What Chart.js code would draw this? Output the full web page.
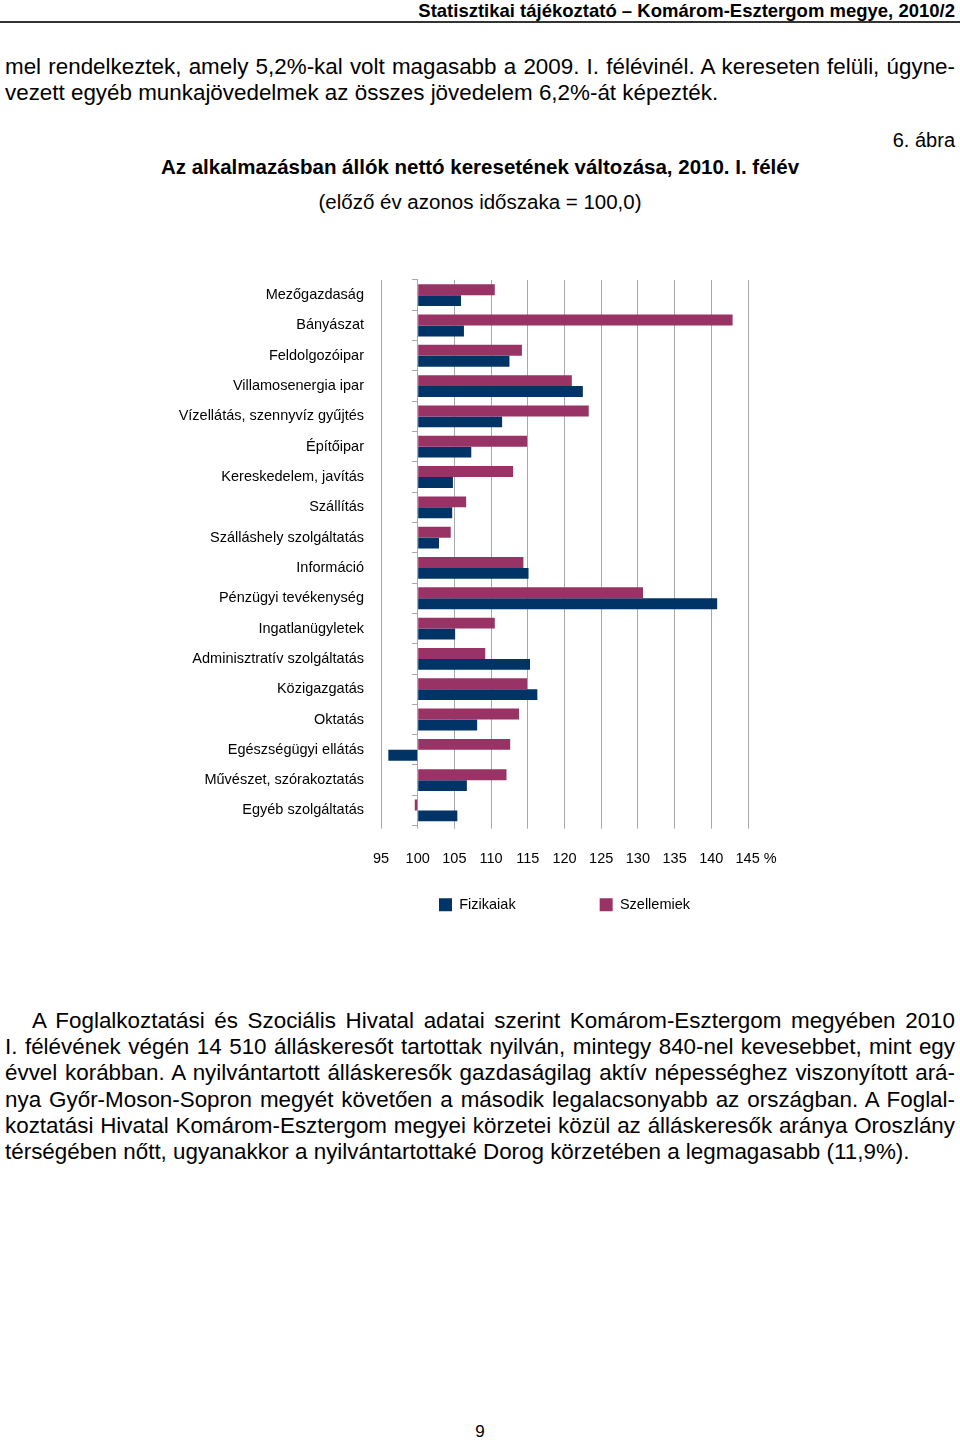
<!DOCTYPE html>
<html lang="hu">
<head>
<meta charset="utf-8">
<title>Az alkalmazásban állók nettó keresetének változása, 2010. I. félév</title>
<script src="https://cdn.jsdelivr.net/npm/chart.js@4/dist/chart.umd.min.js"></script>
<style>
  html, body { margin: 0; padding: 0; background: #fff; }
  body { width: 960px; height: 1440px; position: relative; font-family: "Liberation Sans", Arial, sans-serif; color: #000; overflow: hidden; }
  .abs { position: absolute; }
  .header { right: 5px; top: 0; font-weight: bold; font-size: 18.5px; line-height: 22px; }
  .rule { left: 0; top: 21px; width: 960px; height: 2px; background: #333; }
  .para { left: 5px; width: 950px; font-size: 22.4px; line-height: 26.2px; }
  .para div { white-space: nowrap; }
  .para .j { text-align: justify; text-align-last: justify; }
  .para .l { text-align: left; }
  .fig { right: 5px; top: 127px; font-size: 20px; line-height: 26px; }
  .title { left: 0; width: 960px; text-align: center; top: 154px; font-size: 20.5px; line-height: 26px; font-weight: bold; }
  .subtitle { left: 0; width: 960px; text-align: center; top: 189px; font-size: 20.5px; line-height: 26px; }
  .chart-box { left: 0; top: 240px; width: 960px; height: 690px; }
  .pageno { left: 0; width: 960px; text-align: center; top: 1421px; font-size: 17px; line-height: 22px; }
</style>
</head>
<body>
<div class="abs header">Statisztikai tájékoztató – Komárom-Esztergom megye, 2010/2</div>
<div class="abs rule"></div>

<div class="abs para" style="top:54px">
  <div class="j">mel rendelkeztek, amely 5,2%-kal volt magasabb a 2009. I. félévinél. A kereseten felüli, úgyne-</div>
  <div class="l">vezett egyéb munkajövedelmek az összes jövedelem 6,2%-át képezték.</div>
</div>

<div class="abs fig">6. ábra</div>
<div class="abs title">Az alkalmazásban állók nettó keresetének változása, 2010. I. félév</div>
<div class="abs subtitle">(előző év azonos időszaka = 100,0)</div>

<div class="abs chart-box"><canvas id="earningsChart"></canvas></div>

<div class="abs para" style="top:1008px">
  <div class="j" style="padding-left:27px">A Foglalkoztatási és Szociális Hivatal adatai szerint Komárom-Esztergom megyében 2010</div>
  <div class="j">I. félévének végén 14 510 álláskeresőt tartottak nyilván, mintegy 840-nel kevesebbet, mint egy</div>
  <div class="j">évvel korábban. A nyilvántartott álláskeresők gazdaságilag aktív népességhez viszonyított ará-</div>
  <div class="j">nya Győr-Moson-Sopron megyét követően a második legalacsonyabb az országban. A Foglal-</div>
  <div class="j">koztatási Hivatal Komárom-Esztergom megyei körzetei közül az álláskeresők aránya Oroszlány</div>
  <div class="l">térségében nőtt, ugyanakkor a nyilvántartottaké Dorog körzetében a legmagasabb (11,9%).</div>
</div>

<div class="abs pageno">9</div>

<script>
// --- chart data (previous year same period = 100) ---
const sectors = [
    'Mezőgazdaság',
    'Bányászat',
    'Feldolgozóipar',
    'Villamosenergia ipar',
    'Vízellátás, szennyvíz gyűjtés',
    'Építőipar',
    'Kereskedelem, javítás',
    'Szállítás',
    'Szálláshely szolgáltatás',
    'Információ',
    'Pénzügyi tevékenység',
    'Ingatlanügyletek',
    'Adminisztratív szolgáltatás',
    'Közigazgatás',
    'Oktatás',
    'Egészségügyi ellátás',
    'Művészet, szórakoztatás',
    'Egyéb szolgáltatás'
];
const szellemiek = [110.5, 142.9, 114.2, 121.0, 123.3, 114.9, 113.0, 106.6, 104.5, 114.4, 130.7, 110.5, 109.2, 114.9, 113.8, 112.6, 112.1, 99.6];
const fizikaiak = [105.9, 106.3, 112.5, 122.5, 111.5, 107.3, 104.8, 104.7, 102.9, 115.1, 140.8, 105.1, 115.3, 116.3, 108.1, 96.0, 106.7, 105.4];
const axisMin = 95;
const axisMax = 145;
const axisStep = 5;
const baseValue = 100;

const gridColor = '#a8a8a8';
const fontFamily = '"Liberation Sans", Arial, sans-serif';

Chart.defaults.font.family = fontFamily;
Chart.defaults.font.size = 14.5;
Chart.defaults.color = '#000';

const ctx = document.getElementById('earningsChart').getContext('2d');
new Chart(ctx, {
    type: 'bar',
    data: {
        labels: sectors,
        datasets: [
            { label: 'Szellemiek', data: szellemiek, base: baseValue, backgroundColor: '#993366' },
            { label: 'Fizikaiak', data: fizikaiak, base: baseValue, backgroundColor: '#003366' }
        ]
    },
    options: {
        indexAxis: 'y',
        responsive: true,
        maintainAspectRatio: false,
        animation: false,
        datasets: { bar: { categoryPercentage: 0.72, barPercentage: 1.0 } },
        layout: { padding: { top: 40, left: 0, right: 212, bottom: 8 } },
        scales: {
            x: {
                min: axisMin,
                max: axisMax,
                border: { display: false },
                grid: { color: gridColor, lineWidth: 1, tickLength: 3 },
                ticks: {
                    stepSize: axisStep,
                    autoSkip: false,
                    maxRotation: 0,
                    padding: 22,
                    // last tick carries the unit, padded so the number stays centred
                    callback: value => value === axisMax ? '    ' + value + ' %' : String(value)
                }
            },
            y: {
                grid: { display: false },
                border: { display: false },
                ticks: { padding: 9, autoSkip: false },
                afterFit: scale => { scale.width = 381; }
            },
            // axis crossing at 100 with short tick marks between categories
            yBase: {
                type: 'category',
                axis: 'y',
                position: { x: baseValue },
                offset: true,
                border: { display: false },
                grid: { offset: true, drawOnChartArea: false, drawTicks: true, tickLength: 6, color: gridColor },
                ticks: { display: false }
            }
        },
        plugins: {
            legend: {
                position: 'bottom',
                fullSize: false,
                reverse: true,
                labels: {
                    boxWidth: 13,
                    boxHeight: 13,
                    padding: 7.5,
                    generateLabels: chart => {
                        const items = Chart.defaults.plugins.legend.labels.generateLabels(chart);
                        items.forEach(item => {
                            item.lineWidth = 0;
                            // widen the first legend entry to match the spacing in the figure
                            if (item.text === 'Fizikaiak') item.text = item.text + '                   ';
                        });
                        return items;
                    }
                }
            },
            tooltip: { enabled: false }
        }
    }
});
</script>
</body>
</html>
